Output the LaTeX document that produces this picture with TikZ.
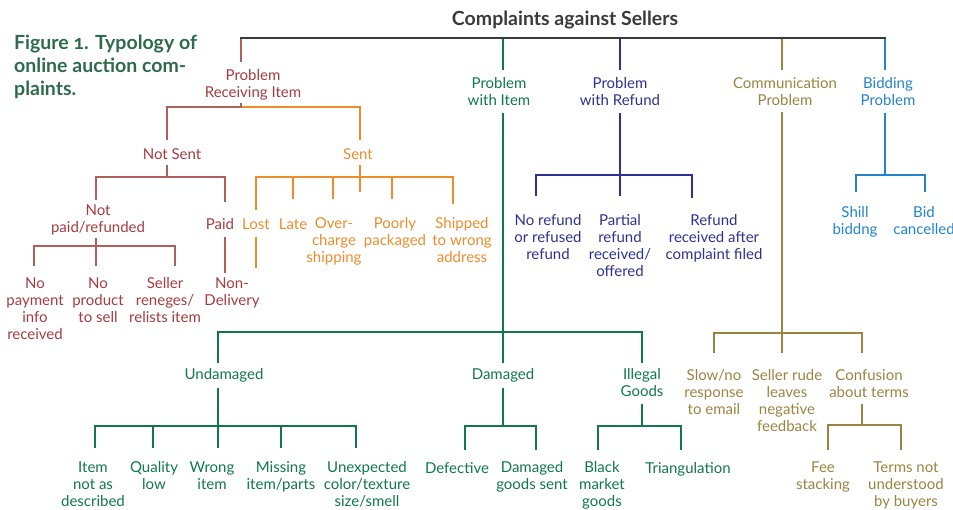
\documentclass[tikz,border=0pt]{standalone}
\usepackage{fontspec}
\setmainfont{Lato}
\definecolor{capgreen}{HTML}{2D6B4C}
\definecolor{darkline}{HTML}{3A3A3A}
\definecolor{redt}{HTML}{A43C40}
\definecolor{redl}{HTML}{B0605C}
\definecolor{oran}{HTML}{EC8C2C}
\definecolor{itemg}{HTML}{10784C}
\definecolor{refb}{HTML}{2F3192}
\definecolor{comm}{HTML}{9A8442}
\definecolor{bidb}{HTML}{2384CC}
\begin{document}
\begin{tikzpicture}[x=1pt,y=-1pt,
  lab/.style={font=\fontsize{15}{17}\selectfont, align=center, inner sep=0pt,
    anchor=north, execute at begin node=\strut, execute at end node=\strut},
  tree/.style={line width=1.7pt, line join=miter},
  rl/.style={tree, draw=redl}, ol/.style={tree, draw=oran},
  gl/.style={tree, draw=itemg}, bl/.style={tree, draw=refb},
  cl/.style={tree, draw=comm}, sl/.style={tree, draw=bidb}]
\useasboundingbox (0,0) rectangle (953,509);

% caption and heading
\node[font=\bfseries\fontsize{19.5}{23}\selectfont\addfontfeature{Numbers=OldStyle},
  text=capgreen, align=left, anchor=north west, inner sep=0pt,
  execute at begin node=\strut] (cap) at (14,34.9)
  {Figure 1. Typology of\\online auction com-\\plaints.};
\node[font=\bfseries\fontsize{19.5}{22}\selectfont, text=darkline, anchor=base,
  inner sep=0pt] (root) at (565,25.5) {Complaints against Sellers};

% first level
\node[lab, text=redt]  (pri) at (253,69.5) {Problem\\Receiving Item};
\node[lab, text=itemg] (pwi) at (499,77.5) {Problem\\with Item};
\node[lab, text=refb]  (pwr) at (620,77.5) {Problem\\with Refund};
\node[lab, text=comm]  (cp)  at (785,77.5) {Communication\\Problem};
\node[lab, text=bidb]  (bp)  at (888,77.5) {Bidding\\Problem};

% problem receiving item
\node[lab, text=redt] (notsent) at (172,147) {Not Sent};
\node[lab, text=oran] (sent)    at (358,147) {Sent};
\node[lab, text=redt] (notpaid) at (98,204.5)  {Not\\paid/refunded};
\node[lab, text=redt] (paid)    at (220,217) {Paid};
\node[lab, text=redt] (np1) at (35,277.5)  {No\\payment\\info\\received};
\node[lab, text=redt] (np2) at (98,277.5)  {No\\product\\to sell};
\node[lab, text=redt] (np3) at (165,277.5) {Seller\\reneges/\\relists item};
\node[lab, text=redt] (nondel) at (232,277.5) {Non-\\Delivery};
\node[lab, text=oran] (lost)    at (256,217) {Lost};
\node[lab, text=oran] (late)    at (293,217) {Late};
\node[lab, text=oran] (over)    at (334,217.5) {Over-\\charge\\shipping};
\node[lab, text=oran] (poorly)  at (395,217.5) {Poorly\\packaged};
\node[lab, text=oran] (shipped) at (462,217.5) {Shipped\\to wrong\\address};

% problem with refund
\node[lab, text=refb] (nr1) at (548,214.5) {No refund\\or refused\\refund};
\node[lab, text=refb] (nr2) at (620,214.5) {Partial\\refund\\received/\\offered};
\node[lab, text=refb] (nr3) at (714,214.5) {Refund\\received after\\complaint filed};

% bidding problem
\node[lab, text=bidb] (shill) at (855,206.5) {Shill\\biddng};
\node[lab, text=bidb] (bid)   at (924,206.5) {Bid\\cancelled};

% problem with item
\node[lab, text=itemg] (undam)   at (224,367.5) {Undamaged};
\node[lab, text=itemg] (dam)     at (503,367.5) {Damaged};
\node[lab, text=itemg] (illegal) at (642,368.5) {Illegal\\Goods};
\node[lab, text=itemg] (u1) at (93,461.5)  {Item\\not as\\described};
\node[lab, text=itemg] (u2) at (154,461.5) {Quality\\low};
\node[lab, text=itemg] (u3) at (212,461.5) {Wrong\\item};
\node[lab, text=itemg] (u4) at (281,461.5) {Missing\\item/parts};
\node[lab, text=itemg] (u5) at (367,461.5) {Unexpected\\color/texture\\size/smell};
\node[lab, text=itemg] (d1) at (457,461) {Defective};
\node[lab, text=itemg] (d2) at (532,461.5) {Damaged\\goods sent};
\node[lab, text=itemg] (i1) at (602,461.5) {Black\\market\\goods};
\node[lab, text=itemg] (i2) at (688,461) {Triangulation};

% communication problem
\node[lab, text=comm] (c1) at (714,369.5) {Slow/no\\response\\to email};
\node[lab, text=comm] (c2) at (787,369.5) {Seller rude\\leaves\\negative\\feedback};
\node[lab, text=comm] (c3) at (869,369.5) {Confusion\\about terms};
\node[lab, text=comm] (c31) at (823,461.5) {Fee\\stacking};
\node[lab, text=comm] (c32) at (906,461.5) {Terms not\\understood\\by buyers};

% ---- connectors ----
% trunks from the top bar
\draw[rl] ([yshift=7.5pt]pri.north -| 241,0) -- (241,38);
\draw[gl] ([yshift=7.5pt]pwi.north -| 503,0) -- (503,38);
\draw[bl] ([yshift=7.5pt]pwr.north -| 620,0) -- (620,38);
\draw[cl] ([yshift=7.5pt]cp.north -| 782,0) -- (782,38);
\draw[sl] ([yshift=7.5pt]bp.north -| 885,0) -- (885,38);
\draw[darkline, line width=1.5pt, line cap=rect] (241,38) -- (885,38);

% receiving item
\draw[rl] ([yshift=0.5pt]pri.south -| 241,0) -- (241,107) -- (167,107)
  -- ([yshift=7pt]notsent.north -| 167,0);
\draw[ol] (242,107) -- (360,107) -- ([yshift=7pt]sent.north -| 360,0);
\draw[rl] ([yshift=-1pt]notsent.south -| 167,0) -- (167,177);
\draw[rl] ([yshift=4.5pt]notpaid.north -| 96,0) -- (96,177) -- (225,177)
  -- ([yshift=15pt]paid.north -| 225,0);
\draw[rl] ([yshift=-0.5pt]notpaid.south -| 96,0) -- (96,246);
\draw[rl] ([yshift=11.5pt]np1.north -| 34,0) -- (34,246) -- (175,246)
  -- ([yshift=11.5pt]np3.north -| 175,0);
\draw[rl] (96,246) -- ([yshift=11.5pt]np2.north -| 96,0);
\draw[rl] ([yshift=-3pt]paid.south -| 225,0) -- ([yshift=4.5pt]nondel.north -| 225,0);
\draw[ol] ([yshift=-1pt]sent.south -| 360,0) -- (360,192);
\draw[ol] ([yshift=7pt]lost.north -| 256,0) -- (256,177) -- (453,177)
  -- ([yshift=13.5pt]shipped.north -| 453,0);
\draw[ol] (293,177) -- ([yshift=18pt]late.north -| 293,0);
\draw[ol] (333,177) -- ([yshift=18.5pt]over.north -| 333,0);
\draw[ol] (392,177) -- ([yshift=18.5pt]poorly.north -| 392,0);
\coordinate (lostend) at (256,268);
\draw[ol] ([yshift=-3pt]lost.south -| 256,0) -- (lostend);

% problem with item
\draw[gl] ([yshift=-1.5pt]pwi.south -| 503,0) -- ([yshift=4.5pt]dam.north -| 503,0);
\draw[gl] ([yshift=4.5pt]undam.north -| 218,0) -- (218,332) -- (642,332)
  -- ([yshift=5.5pt]illegal.north -| 642,0);
\draw[gl] ([yshift=-3.5pt]undam.south -| 218,0) -- ([yshift=13.5pt]u3.north -| 218,0);
\draw[gl] ([yshift=13.5pt]u1.north -| 95,0) -- (95,426) -- (356,426)
  -- ([yshift=13.5pt]u5.north -| 356,0);
\draw[gl] (153,426) -- ([yshift=13.5pt]u2.north -| 153,0);
\draw[gl] (281,426) -- ([yshift=13.5pt]u4.north -| 281,0);
\draw[gl] ([yshift=-3.5pt]dam.south -| 503,0) -- (503,426);
\draw[gl] ([yshift=11pt]d1.north -| 465,0) -- (465,426) -- (536,426)
  -- ([yshift=11.5pt]d2.north -| 536,0);
\draw[gl] ([yshift=-1.5pt]illegal.south -| 642,0) -- (642,426);
\draw[gl] ([yshift=11.5pt]i1.north -| 598,0) -- (598,426) -- (681,426)
  -- ([yshift=11pt]i2.north -| 681,0);

% problem with refund
\draw[bl] ([yshift=-1.5pt]pwr.south -| 620,0) -- ([yshift=18.5pt]nr2.north -| 620,0);
\draw[bl] ([yshift=18.5pt]nr1.north -| 536,0) -- (536,175) -- (692,175)
  -- ([yshift=16.5pt]nr3.north -| 692,0);

% communication problem
\draw[cl] ([yshift=-1.5pt]cp.south -| 782,0) -- ([yshift=16.5pt]c2.north -| 782,0);
\draw[cl] ([yshift=16.5pt]c1.north -| 714,0) -- (714,333) -- (862,333)
  -- ([yshift=16.5pt]c3.north -| 862,0);
\draw[cl] ([yshift=-1.5pt]c3.south -| 862,0) -- (862,425);
\draw[cl] ([yshift=11.5pt]c31.north -| 828,0) -- (828,425) -- (901,425)
  -- ([yshift=11.5pt]c32.north -| 901,0);

% bidding problem
\draw[sl] ([yshift=-1.5pt]bp.south -| 885,0) -- (885,175);
\draw[sl] ([yshift=14.5pt]shill.north -| 856,0) -- (856,175) -- (925,175)
  -- ([yshift=14.5pt]bid.north -| 925,0);
\end{tikzpicture}
\end{document}
